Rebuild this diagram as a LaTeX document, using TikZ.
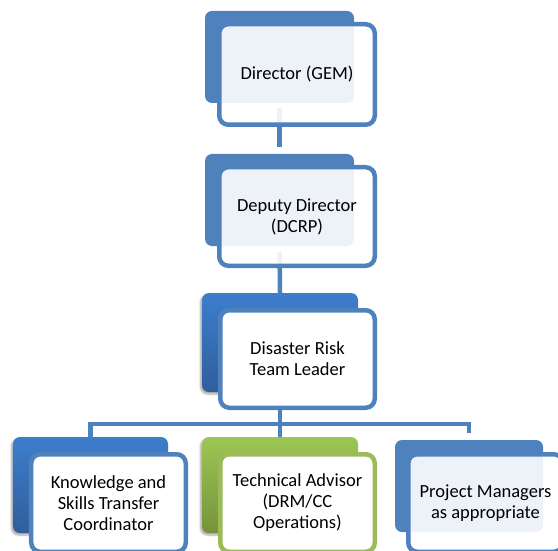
\documentclass[tikz,border=0pt]{standalone}
\usepackage{fontspec}
\setmainfont{Carlito}
\usetikzlibrary{backgrounds,shadows.blur}

\definecolor{accent}{HTML}{4F81BD}
\definecolor{blueTop}{HTML}{3D7ECC}
\definecolor{blueBot}{HTML}{2F5E9C}
\definecolor{greenTop}{HTML}{9CC753}
\definecolor{greenBot}{HTML}{76923C}
\definecolor{greenLine}{HTML}{9BBB59}

\tikzset{
  x=1bp, y=-1bp,
  plate/.style={rounded corners=7bp, inner sep=0pt, outer sep=0pt, draw=none},
  flatplate/.style={plate, fill=accent},
  shadedplate/.style={plate, top color=#1Top, bottom color=#1Bot,
    blur shadow={shadow xshift=-1.5bp, shadow yshift=-2bp, shadow blur steps=6, shadow opacity=35}},
  card/.style={rounded corners=9bp, inner sep=0pt, outer sep=0pt, line width=4.5bp,
    draw=accent, fill=white, align=center, text=black,
    font=\fontsize{18.5bp}{21bp}\selectfont},
  glasscard/.style={card, fill opacity=0.9, text opacity=1},
  link/.style={draw=accent, line width=4.5bp},
}

\begin{document}
\begin{tikzpicture}
\useasboundingbox (0,0) rectangle (558,551);

% level 1: Director
\node[flatplate, minimum width=149bp, minimum height=92bp] (gemB) at (279.5,57) {};
\node[glasscard, minimum width=155.5bp, minimum height=100.5bp] (gem) at (297,74.5) {Director (GEM)};

% level 2: Deputy Director
\node[flatplate, minimum width=149bp, minimum height=92bp] (dcrpB) at (279.5,200) {};
\node[glasscard, minimum width=155.5bp, minimum height=98.5bp] (dcrp) at (297,216.5) {Deputy Director\\(DCRP)};

% level 3: team leader
\node[shadedplate=blue, minimum width=156bp, minimum height=99bp] (drtlB) at (280,342.5) {};
\node[card, minimum width=154.5bp, minimum height=97.5bp] (drtl) at (297.5,359) {Disaster Risk\\Team Leader};

% level 4
\node[shadedplate=blue, minimum width=155bp, minimum height=96bp] (kstB) at (90.5,485) {};
\node[card, minimum width=154.5bp, minimum height=97.5bp] (kst) at (108.5,503) {Knowledge and\\Skills Transfer\\Coordinator};

\node[shadedplate=green, minimum width=156bp, minimum height=96bp] (taB) at (280,485) {};
\node[card, draw=greenLine, minimum width=154.5bp, minimum height=97.5bp] (ta) at (297.5,503) {Technical Advisor\\(DRM/CC\\Operations)};

\node[flatplate, minimum width=148bp, minimum height=92bp] (pmB) at (469,486) {};
\node[glasscard, minimum width=154.5bp, minimum height=97.5bp] (pm) at (485.5,503) {Project Managers\\as appropriate};

% connectors, kept behind the cards
\coordinate (bar) at (280,424);
\begin{scope}[on background layer]
  \draw[link, shorten <=5bp, shorten >=7bp] (gemB.south) -- (dcrpB.north);
  \draw[link, shorten <=6bp] (dcrpB.south) -- (drtlB.north);
  \draw[link] (drtlB.south) -- (taB.north);
  \draw[link] (kstB.north) |- (bar) -| ([yshift=7bp]pmB.north);
\end{scope}
\end{tikzpicture}
\end{document}
